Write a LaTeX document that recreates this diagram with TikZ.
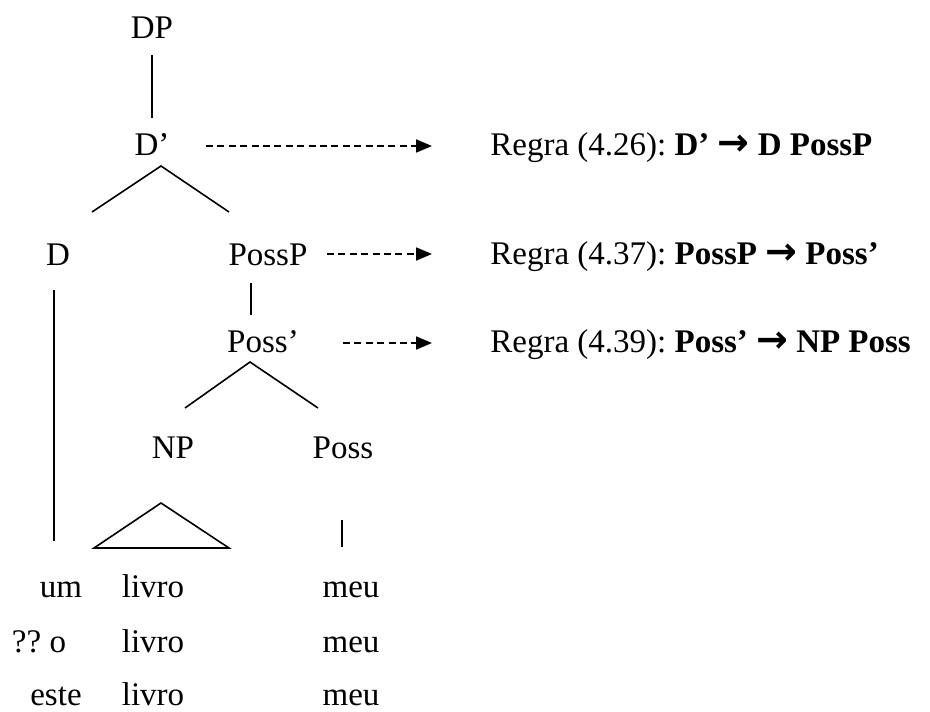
\documentclass[tikz,border=0pt]{standalone}
\usepackage{fontspec}
\setmainfont{Liberation Serif}
\newfontfamily\arrowfont{DejaVu Sans}
\usepackage{tikz}
\usetikzlibrary{arrows.meta,calc}

\newcommand{\regarrow}{{\arrowfont\bfseries\fontsize{19}{19}\selectfont →}}
\frenchspacing

\begin{document}
\begin{tikzpicture}[
            x=0.5pt, y=-0.5pt,
            font=\fontsize{16.5}{19}\selectfont,
            nodes={inner sep=0pt},
            cat/.style={anchor=center},
            word/.style={anchor=base},
            regrarow/.style={anchor=base west},
            branch/.style={line width=0.8pt},
            toregra/.style={line width=0.9pt, dash pattern=on 3.5pt off 2.2pt,
                -{Triangle[length=8pt,width=6.5pt]}}
        ]
            \useasboundingbox (0,0) rectangle (930,711);

            % categories
            \node[cat] (DP) at (152,28) {DP};
            \node[cat] (Dbar) at (152,145) {D’};
            \node[cat] (D) at (58,255) {D};
            \node[cat] (PossP) at (268,255) {PossP};
            \node[cat] (Possbar) at (263,342) {Poss’};
            \node[cat] (NP) at (173,448) {NP};
            \node[cat] (Poss) at (343,448) {Poss};

            % words
            \node[word] (um) at (61,597) {um};
            \node[word] (o) at (39,652) {?? o};
            \node[word] (este) at (56,705) {este};
            \node[word] (livroA) at (153,597) {livro};
            \node[word] (livroB) at (153,652) {livro};
            \node[word] (livroC) at (153,705) {livro};
            \node[word] (meuA) at (351,597) {meu};
            \node[word] (meuB) at (351,652) {meu};
            \node[word] (meuC) at (351,705) {meu};

            % rules
            \node[regrarow] (r1) at (490,156) {Regra (4.26): \textbf{D’ \regarrow{} D PossP}};
            \node[regrarow] (r2) at (490,264) {Regra (4.37): \textbf{PossP \regarrow{} Poss’}};
            \node[regrarow] (r3) at (490,352) {Regra (4.39): \textbf{Poss’ \regarrow{} NP Poss}};

            % branches
            \draw[branch] ($(DP)+(0,27)$) -- ($(Dbar)+(0,-27)$);
            \draw[branch] ($(D)+(34,-43)$) -- ($(Dbar)+(9,21)$) -- ($(PossP)+(-39,-43)$);
            \draw[branch] ($(D)+(-4,35)$) -- ($(um)+(-7,-48)$);
            \draw[branch] ($(PossP)+(-17,28)$) -- ($(Possbar)+(-12,-27)$);
            \draw[branch] ($(NP)+(12,-40)$) -- ($(Possbar)+(-13,20)$) -- ($(Poss)+(-25,-40)$);
            \draw[branch] ($(NP)+(-12,55)$) -- ($(NP)+(-79,100)$) -- ($(NP)+(56,100)$) -- cycle;
            \draw[branch] ($(Poss)+(-1,72)$) -- ($(meuA)+(-9,-42)$);

            % rule arrows
            \draw[toregra] ($(Dbar)+(54,1)$) -- ($(r1.base west)+(-58,-10)$);
            \draw[toregra] ($(PossP)+(59,-1)$) -- ($(r2.base west)+(-58,-10)$);
            \draw[toregra] ($(Possbar)+(80,1)$) -- ($(r3.base west)+(-58,-9)$);
        \end{tikzpicture}
\end{document}
